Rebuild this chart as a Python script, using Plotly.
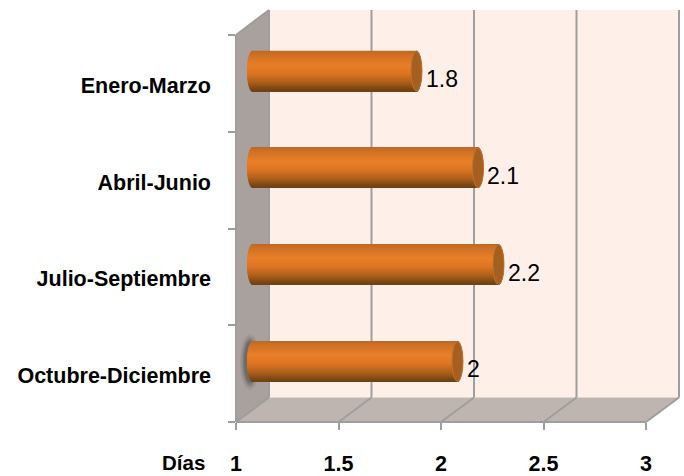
import math
import plotly.graph_objects as go

categories = ["Octubre-Diciembre", "Julio-Septiembre", "Abril-Junio", "Enero-Marzo"]
values = [2.0, 2.2, 2.1, 1.8]
value_ticks = [1, 1.5, 2, 2.5, 3]
axis_title = "Días"

W, H = 684, 476
L, R, T, B = 236, 679, 10, 422      # plot box, px
UX = 205.0                          # px per value unit
UY = 96.75                          # px per category
DX, DY = 33.0, 24.5                 # 3-D depth, px
EW = 5.5 / UX                       # cylinder end half width, value units
BAR = 40.0 / UY                     # cylinder thickness, category units

x_rng = [1, 1 + (R - L) / UX]
y_rng = [-0.5, -0.5 + (B - T) / UY]
x2_rng = [x_rng[0] - DX / 2 / UX, x_rng[1] - DX / 2 / UX]
y2_rng = [y_rng[0] - DY / 2 / UY, y_rng[1] - DY / 2 / UY]
y3_rng = [y_rng[0] + 2 / UY, y_rng[1] + 2 / UY]   # tick labels sit 2px below the slot centre

px = lambda p: (p - L) / (R - L)
py = lambda p: (B - p) / (B - T)

stops = [(0, (0xB8, 0x68, 0x2A)), (0.07, (0xCB, 0x6E, 0x22)), (0.35, (0xE9, 0x7F, 0x28)),
         (0.58, (0xDC, 0x74, 0x21)), (0.8, (0xA9, 0x5E, 0x1A)), (1, (0x6E, 0x40, 0x12))]


def shade(t):
    for (a, ca), (b, cb) in zip(stops, stops[1:]):
        if t <= b:
            f = (t - a) / (b - a)
            return "rgb(%d,%d,%d)" % tuple(round(p + (q - p) * f) for p, q in zip(ca, cb))
    return "rgb(110,64,18)"


fig = go.Figure()

N = 40
for k in range(N):
    t = (k + 0.5) / N
    s = math.sqrt(max(0, 1 - (2 * t - 1) ** 2))
    fig.add_trace(go.Bar(
        orientation="h", y=categories,
        x=[v - 1 + 2 * EW * s for v in values],
        base=[1 - EW * s] * len(values),
        width=BAR / N * 1.5, offset=BAR / 2 - (k + 1) * BAR / N,
        marker=dict(color=shade(t), line=dict(width=0)),
        xaxis="x2", yaxis="y2", showlegend=False, hoverinfo="skip",
    ))

GRID = "#9E9E9E"
shapes = []


def poly(points, fill, layer="below"):
    d = "M" + " L".join(f"{px(a):.5f},{py(b):.5f}" for a, b in points) + " Z"
    shapes.append(dict(type="path", xref="paper", yref="paper", path=d, fillcolor=fill,
                       line=dict(width=0), layer=layer))


def seg(a, b, c, d, color=GRID, width=2):
    shapes.append(dict(type="line", xref="paper", yref="paper", x0=px(a), y0=py(b), x1=px(c), y1=py(d),
                       line=dict(color=color, width=width), layer="below"))


BK, FB = B - DY, B
FT = T + 25
poly([(L + DX, T), (R, T), (R, BK), (L + DX, BK)], "#FEF0E9")
poly([(L, FT), (L + DX, T), (L + DX, BK), (L, FB)], "#A9A19D")
poly([(L, FB), (L + DX, BK), (R, BK), (R - DX, FB)], "#BFB5B0")

# soft shadow behind the lowest cylinder
for rx, ry, op in [(10, 28, 0.12), (8.5, 25, 0.2), (7, 23, 0.3), (6, 21, 0.4)]:
    shapes.append(dict(type="circle", xref="paper", yref="paper", x0=px(250 - rx), x1=px(250 + rx),
                       y0=py(362 + ry), y1=py(362 - ry), fillcolor="#555555", opacity=op,
                       line=dict(width=0), layer="below"))

for tick in value_ticks:
    xf = L + (tick - 1) * UX
    seg(xf + DX, T, xf + DX, BK)
    seg(xf, FB, xf + DX, BK)
seg(L, FT, L + DX, T)
seg(L, FT, L, FB)
seg(L, FB, R - DX, FB)

# end caps
for i, v in enumerate(values):
    shapes.append(dict(type="circle", xref="x2", yref="y2", x0=v - EW, x1=v + EW,
                       y0=i - BAR / 2, y1=i + BAR / 2, fillcolor="#A65F1E",
                       line=dict(color="#B87432", width=1), layer="above"))

annotations = [
    dict(x=v, y=c, xref="x2", yref="y2", text=f"{v:g}", showarrow=False, xanchor="left",
         xshift=7, yshift=-8, font=dict(family="Liberation Sans", size=23, color="black"))
    for c, v in zip(categories, values)
]
annotations.append(dict(x=px(207), y=py(462), xref="paper", yref="paper", text=axis_title, showarrow=False,
                        xanchor="right", yanchor="middle",
                        font=dict(family="Liberation Sans", size=20.5, color="black", weight="bold")))

tick_font = dict(family="Liberation Sans", size=21.5, color="black", weight="bold")
fig.update_layout(
    width=W, height=H, autosize=False,
    margin=dict(l=L, r=W - R, t=T, b=H - B, pad=0, autoexpand=False),
    paper_bgcolor="white", plot_bgcolor="rgba(0,0,0,0)",
    barmode="overlay", showlegend=False, shapes=shapes, annotations=annotations,
    xaxis=dict(range=x_rng, tickmode="array", tickvals=value_ticks, ticktext=[f"{t:g}" for t in value_ticks],
               showgrid=False, zeroline=False, showline=False, ticks="outside", ticklen=7, tickwidth=2,
               tickcolor=GRID, tickfont=tick_font, ticklabelstandoff=15, automargin=False),
    xaxis2=dict(range=x2_rng, overlaying="x", visible=False),
    yaxis=dict(type="category", categoryorder="array", categoryarray=categories, range=y_rng,
               tickson="boundaries", showgrid=False, zeroline=False, showline=False,
               ticks="outside", ticklen=7, tickwidth=2, tickcolor=GRID, showticklabels=False,
               automargin=False),
    yaxis2=dict(type="category", categoryorder="array", categoryarray=categories, range=y2_rng,
                overlaying="y", visible=False),
    yaxis3=dict(type="category", categoryorder="array", categoryarray=categories, range=y3_rng,
                overlaying="y", anchor="x", showgrid=False, zeroline=False, showline=False, ticks="",
                tickfont=tick_font, ticklabelstandoff=24, automargin=False),
)
# invisible traces on the base axes so that the visible axes are drawn
for ya in ("y", "y3"):
    fig.add_trace(go.Scatter(x=[1], y=[categories[0]], mode="markers", marker=dict(opacity=0), hoverinfo="skip",
                             showlegend=False, yaxis=ya))

fig.write_html("out.html", config=dict(displayModeBar=False),
               post_script="document.body.style.margin='0';")
